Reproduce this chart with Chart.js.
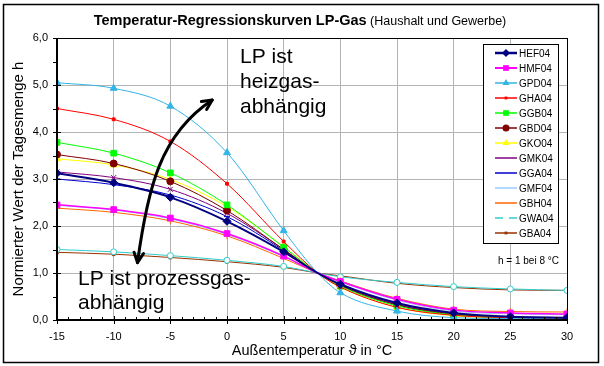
<!DOCTYPE html>
<html>
<head>
<meta charset="utf-8">
<script src="https://cdn.jsdelivr.net/npm/chart.js@4/dist/chart.umd.min.js"></script>
<style>
  body { margin: 0; background: #fff; }
  canvas { display: block; }
</style>
</head>
<body>
<canvas id="myChartContainer" width="604" height="366"></canvas>
<script>
// Temperaturen (°C) - Stützstellen der Kurven, 8 °C = Normierungspunkt (h = 1)
const temps = [-15, -10, -5, 0, 5, 8, 10, 15, 20, 25, 30];

// Normierte Tageswerte h je Profil
const HEF04 = [3.12, 2.92, 2.61, 2.10, 1.45, 1.0, 0.76, 0.36, 0.15, 0.07, 0.05];
const HMF04 = [2.45, 2.35, 2.17, 1.84, 1.36, 1.0, 0.82, 0.44, 0.21, 0.15, 0.13];
const GPD04 = [5.05, 4.93, 4.55, 3.56, 1.90, 1.0, 0.58, 0.19, 0.05, 0.03, 0.02];
const GHA04 = [4.50, 4.27, 3.80, 2.90, 1.67, 1.0, 0.70, 0.27, 0.10, 0.05, 0.04];
const GGB04 = [3.78, 3.55, 3.13, 2.45, 1.55, 1.0, 0.72, 0.30, 0.11, 0.05, 0.04];
const GBD04 = [3.52, 3.33, 2.95, 2.33, 1.50, 1.0, 0.73, 0.32, 0.12, 0.06, 0.04];
const GKO04 = [3.43, 3.30, 2.99, 2.41, 1.56, 1.0, 0.70, 0.27, 0.09, 0.04, 0.03];
const GMK04 = [3.15, 3.03, 2.78, 2.27, 1.50, 1.0, 0.74, 0.33, 0.13, 0.06, 0.04];
const GGA04 = [3.00, 2.88, 2.66, 2.20, 1.48, 1.0, 0.75, 0.35, 0.14, 0.07, 0.05];
const GMF04 = [2.44, 2.34, 2.15, 1.82, 1.35, 1.0, 0.81, 0.42, 0.19, 0.13, 0.11];
const GBH04 = [2.38, 2.29, 2.11, 1.79, 1.31, 1.0, 0.83, 0.46, 0.23, 0.18, 0.17];
const GWA04 = [1.50, 1.45, 1.37, 1.27, 1.14, 1.0, 0.92, 0.80, 0.71, 0.66, 0.63];
const GBA04 = [1.44, 1.40, 1.33, 1.24, 1.12, 1.0, 0.94, 0.78, 0.69, 0.64, 0.63];

const yTicks = [0, 1, 2, 3, 4, 5, 6];
const xTicks = [-15, -10, -5, 0, 5, 10, 15, 20, 25, 30];

const FONT = "'Liberation Sans', Arial, sans-serif";

// Reihe anlegen
function serie(label, values, color, style, radius, fill, width) {
  return {
    label: label,
    data: values.map((v, i) => ({ x: temps[i], y: v })),
    borderColor: color,
    backgroundColor: fill || color,
    pointBorderColor: color,
    pointBackgroundColor: fill || color,
    pointStyle: style,
    legendRadius: radius,
    pointRadius: ctx => temps[ctx.dataIndex] === 8 ? 0 : radius,
    pointHoverRadius: 0,
    pointBorderWidth: 1,
    borderWidth: width || 1,
    cubicInterpolationMode: 'monotone',
    fill: false
  };
}

const datasets = [
  serie('HEF04', HEF04, '#000080', 'rectRot', 4, null, 2),
  serie('HMF04', HMF04, '#FF00FF', 'rect', 4, null, 1.5),
  serie('GPD04', GPD04, '#33B5E5', 'triangle', 4),
  serie('GHA04', GHA04, '#FF0000', 'rect', 2),
  serie('GGB04', GGB04, '#00FF00', 'rect', 4),
  serie('GBD04', GBD04, '#800000', 'circle', 3.5),
  serie('GKO04', GKO04, '#FFFF00', 'triangle', 4),
  serie('GMK04', GMK04, '#800080', 'crossRot', 3.5),
  serie('GGA04', GGA04, '#0000CC', 'line', 3),
  serie('GMF04', GMF04, '#99CCFF', 'crossRot', 3.5),
  serie('GBH04', GBH04, '#FF6600', 'cross', 3.5),
  serie('GWA04', GWA04, '#33CCCC', 'circle', 3, '#FFFFFF'),
  serie('GBA04', GBA04, '#993300', 'rect', 2)
];

// Hintergrund, Rahmen, Titel, Legende, Pfeile
const decor = {
  id: 'decor',
  beforeDraw(chart) {
    const ctx = chart.ctx;
    ctx.save();
    ctx.fillStyle = '#fff';
    ctx.fillRect(0, 0, chart.width, chart.height);
    ctx.restore();
  },
  afterDatasetsDraw(chart) {
    const ctx = chart.ctx;
    const a = chart.chartArea;
    const xs = chart.scales.x, ys = chart.scales.y;
    ctx.save();
    // Rahmen Diagrammfläche
    ctx.strokeStyle = '#000';
    ctx.lineWidth = 1;
    ctx.strokeRect(a.left + 0.5, a.top + 0.5, a.right - a.left, a.bottom - a.top);
    ctx.lineWidth = 2;
    ctx.beginPath();
    ctx.moveTo(a.left, a.top); ctx.lineTo(a.left, a.bottom); ctx.lineTo(a.right, a.bottom);
    ctx.stroke();
    // Teilstriche
    ctx.lineWidth = 1;
    ctx.beginPath();
    for (let t = -15; t <= 30; t++) {
      const px = Math.round(xs.getPixelForValue(t)) + 0.5;
      if (t % 5 === 0) { ctx.moveTo(px, a.bottom - 4); ctx.lineTo(px, a.bottom + 4); }
      else { ctx.moveTo(px, a.bottom - 3); ctx.lineTo(px, a.bottom); }
    }
    for (let v = 0; v <= 6; v += 0.5) {
      const py = Math.round(ys.getPixelForValue(v)) + 0.5;
      if (v % 1 === 0) { ctx.moveTo(a.left - 4, py); ctx.lineTo(a.left + 4, py); }
      else { ctx.moveTo(a.left - 4, py); ctx.lineTo(a.left, py); }
    }
    ctx.stroke();
    ctx.restore();
  },
  afterDraw(chart) {
    const ctx = chart.ctx;
    const a = chart.chartArea;
    const xs = chart.scales.x, ys = chart.scales.y;
    ctx.save();

    // Außenrahmen
    ctx.strokeStyle = '#000';
    ctx.lineWidth = 1.5;
    ctx.strokeRect(3.5, 4.5, 595, 358);

    // Titel (fett + normal)
    const t1 = 'Temperatur-Regressionskurven LP-Gas';
    const t2 = ' (Haushalt und Gewerbe)';
    ctx.fillStyle = '#000';
    ctx.textBaseline = 'middle';
    ctx.font = 'bold 14.5px ' + FONT;
    const w1 = ctx.measureText(t1).width;
    ctx.font = '12.5px ' + FONT;
    const w2 = ctx.measureText(t2).width;
    let tx = 300 - (w1 + w2) / 2;
    ctx.font = 'bold 14.5px ' + FONT;
    ctx.textAlign = 'left';
    ctx.fillText(t1, tx, 21);
    ctx.font = '12.5px ' + FONT;
    ctx.fillText(t2, tx + w1, 22);

    // Legende
    const lw = 75, lh = 199;
    const lx = a.right - 9 - lw, ly = a.top + 6;
    ctx.fillStyle = '#fff';
    ctx.fillRect(lx, ly, lw, lh);
    ctx.lineWidth = 1;
    ctx.strokeRect(lx + 0.5, ly + 0.5, lw, lh);
    ctx.font = '10px ' + FONT;
    ctx.textBaseline = 'middle';
    chart.data.datasets.forEach((ds, i) => {
      const y = ly + 9 + i * 15;
      ctx.strokeStyle = ds.borderColor;
      ctx.lineWidth = ds.borderWidth + 0.5;
      ctx.beginPath();
      ctx.moveTo(lx + 12, y); ctx.lineTo(lx + 34, y);
      ctx.stroke();
      ctx.fillStyle = ds.pointBackgroundColor;
      ctx.strokeStyle = ds.pointBorderColor;
      ctx.lineWidth = 1;
      Chart.helpers.drawPoint(ctx, { pointStyle: ds.pointStyle, radius: ds.legendRadius, rotation: 0 }, lx + 23, y);
      ctx.fillStyle = '#000';
      ctx.fillText(ds.label, lx + 36, y + 1);
    });
    ctx.font = '10px ' + FONT;
    ctx.fillText('h = 1 bei 8 °C', lx + 15, ly + lh + 18);

    // Beschriftungen
    ctx.font = '21px ' + FONT;
    ctx.textBaseline = 'alphabetic';
    ctx.fillText('LP ist', 240, 63);
    ctx.fillText('heizgas-', 240, 88);
    ctx.fillText('abhängig', 240, 113);
    ctx.fillText('LP ist prozessgas-', 78, 285);
    ctx.fillText('abhängig', 78, 309);

    // Doppelpfeil (in Datenkoordinaten)
    const P = [[-7.9, 1.22], [-7.0, 2.8], [-5.9, 3.95], [-1.3, 4.68]]
      .map(p => [xs.getPixelForValue(p[0]), ys.getPixelForValue(p[1])]);
    ctx.strokeStyle = '#000';
    ctx.lineWidth = 3;
    ctx.lineCap = 'round';
    ctx.lineJoin = 'round';
    ctx.beginPath();
    ctx.moveTo(P[0][0], P[0][1]);
    ctx.bezierCurveTo(P[1][0], P[1][1], P[2][0], P[2][1], P[3][0], P[3][1]);
    ctx.stroke();
    function head(tip, from) {
      const ang = Math.atan2(tip[1] - from[1], tip[0] - from[0]);
      const L = 11, s = 0.45;
      ctx.beginPath();
      ctx.moveTo(tip[0] - L * Math.cos(ang - s), tip[1] - L * Math.sin(ang - s));
      ctx.lineTo(tip[0], tip[1]);
      ctx.lineTo(tip[0] - L * Math.cos(ang + s), tip[1] - L * Math.sin(ang + s));
      ctx.stroke();
    }
    head(P[3], P[2]);
    head(P[0], P[1]);
    ctx.restore();
  }
};

const chartOptions = {
  responsive: false,
  animation: false,
  layout: { padding: { left: 4, right: 37, top: 38, bottom: 6 } },
  plugins: {
    legend: { display: false },
    title: { display: false },
    tooltip: { enabled: false }
  },
  scales: {
    x: {
      type: 'linear',
      min: -15,
      max: 30,
      afterFit: s => { s.height = 40; },
      afterBuildTicks: s => { s.ticks = xTicks.map(v => ({ value: v })); },
      ticks: { color: '#000', font: { family: FONT, size: 11 }, padding: 10, maxRotation: 0 },
      grid: { color: '#B4B4B4', drawTicks: false },
      border: { display: false },
      title: { display: true, text: 'Außentemperatur ϑ in °C', color: '#000', font: { family: FONT, size: 14.5 }, padding: { top: 0, bottom: 0 } }
    },
    y: {
      min: 0,
      max: 6,
      afterFit: s => { s.width = 53; },
      afterBuildTicks: s => { s.ticks = yTicks.map(v => ({ value: v })); },
      ticks: { color: '#000', font: { family: FONT, size: 11 }, padding: 9, callback: v => v.toFixed(1).replace('.', ',') },
      grid: { color: '#B4B4B4', drawTicks: false },
      border: { display: false },
      title: { display: true, text: 'Normierter Wert der Tagesmenge h', color: '#000', font: { family: FONT, size: 15 }, padding: { top: 6, bottom: 0 } }
    }
  }
};

const ctx = document.getElementById('myChartContainer').getContext('2d');
new Chart(ctx, {
  type: 'line',
  data: { datasets: datasets },
  options: chartOptions,
  plugins: [decor]
});
</script>
</body>
</html>
